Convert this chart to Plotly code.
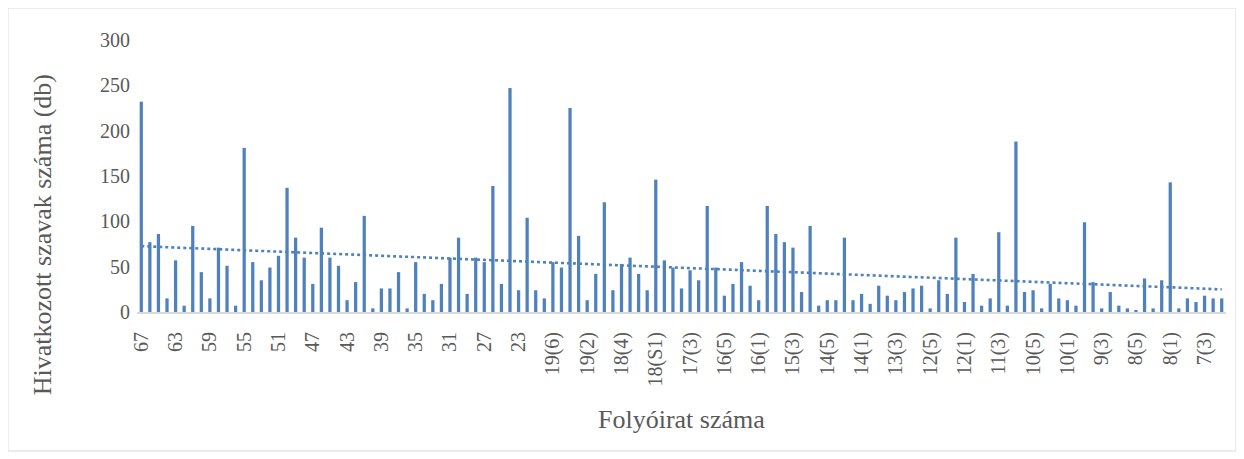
"""Hivatkozott szavak száma folyóiratonként."""

import numpy as np
import plotly.graph_objects as go

# Folyóirat számok: 67..20, majd évfolyam(szám) formában
NUMBERS = [str(n) for n in range(67, 19, -1)]
ISSUES = []
for year in range(19, 6, -1):
    for issue in range(6, 0, -1):
        ISSUES.append(f"{year}({issue})")
    if year == 18:
        ISSUES.append("18(S1)")
CATEGORIES = NUMBERS + ISSUES

VALUES = [
    232, 77, 86, 15, 57, 7, 95, 44, 15, 71, 51, 7, 181, 55, 35, 49, 62, 137, 82, 60, 31,
    93, 60, 51, 13, 33, 106, 4, 26, 26, 44, 4, 55, 20, 13, 31, 60, 82, 20, 60, 55, 139,
    31, 247, 24, 104, 24, 15, 55, 49, 225, 84, 13, 42, 121, 24, 53, 60, 42, 24, 146, 57,
    49, 26, 46, 35, 117, 49, 18, 31, 55, 29, 13, 117, 86, 77, 71, 22, 95, 7, 13, 13, 82,
    13, 20, 9, 29, 18, 13, 22, 26, 29, 4, 35, 20, 82, 11, 42, 7, 15, 88, 7, 188,
    22, 24, 4, 31, 15, 13, 7, 99, 33, 4, 22, 7, 4, 2, 37, 4, 35, 143, 4, 15, 11, 18, 15, 15,
]

Y_TICKS = [0, 50, 100, 150, 200, 250, 300]

BAR_COLOR = "#4F81BD"
TEXT_COLOR = "#595959"
FONT = "Liberation Serif"

# lineáris trendvonal
idx = np.arange(len(VALUES))
slope, intercept = np.polyfit(idx, VALUES, 1)
trend = slope * idx + intercept

fig = go.Figure()
fig.add_trace(
    go.Bar(
        x=CATEGORIES,
        y=VALUES,
        marker={"color": BAR_COLOR, "line": {"width": 0}},
        width=0.38,
        showlegend=False,
    )
)
fig.add_trace(
    go.Scatter(
        x=CATEGORIES,
        y=trend,
        mode="lines",
        line={"color": BAR_COLOR, "width": 2.6, "dash": "dot"},
        showlegend=False,
    )
)

# az oldal 8 px-es margója miatt a méret kisebb
fig.update_layout(
    width=1236,
    height=451,
    paper_bgcolor="white",
    plot_bgcolor="white",
    margin=dict(l=129, r=18, t=32, b=147),
    font=dict(family=FONT, color=TEXT_COLOR, size=20),
    xaxis=dict(
        type="category",
        range=[-0.5, len(CATEGORIES) - 0.5],
        tickmode="array",
        tickvals=CATEGORIES[::4],
        ticktext=CATEGORIES[::4],
        tickangle=-90,
        ticks="",
        ticklabelstandoff=10,
        showline=True,
        linecolor="#D9D9D9",
        linewidth=2,
        showgrid=False,
        tickfont=dict(size=20),
    ),
    yaxis=dict(
        range=[0, 300],
        tickvals=Y_TICKS,
        showgrid=False,
        zeroline=False,
        showline=False,
        ticks="",
        ticklabelstandoff=6,
        tickfont=dict(size=20),
    ),
    annotations=[
        dict(
            text="Folyóirat száma",
            xref="paper", yref="paper",
            x=0.5, y=-0.397,
            xanchor="center", yanchor="middle",
            showarrow=False,
            font=dict(size=26),
        ),
        dict(
            text="Hivatkozott szavak száma (db)",
            xref="paper", yref="paper",
            x=-0.087, y=0.283,
            xanchor="center", yanchor="middle",
            textangle=-90,
            showarrow=False,
            font=dict(size=26),
        ),
    ],
    shapes=[
        dict(
            type="rect",
            xref="paper", yref="paper",
            x0=-0.1185, x1=1.0092, y0=-0.511, y1=1.1176,
            line=dict(color="#D9D9D9", width=1),
            layer="below",
        )
    ],
)

fig.write_html("out.html")
